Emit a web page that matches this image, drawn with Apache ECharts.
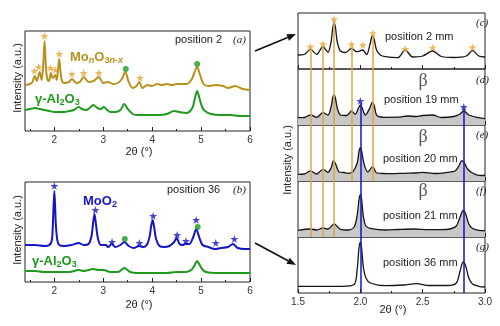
<!DOCTYPE html>
<html><head><meta charset="utf-8">
<script src="https://cdn.jsdelivr.net/npm/echarts@6/dist/echarts.min.js"></script>
<style>html,body{margin:0;padding:0;background:#fff}#c{width:500px;height:326px}</style>
</head><body><div id="c"></div>
<script>
// ---------- data (x = 2θ in degrees, y = intensity in arbitrary units) ----------
const goldA = [[1.40,46],[1.50,47],[1.55,49],[1.60,55],[1.64,50],[1.70,59],[1.74,51],[1.77,64],[1.80,90],[1.83,62],[1.86,51],[1.89,50],[1.93,58],[1.97,53],[2.02,56],[2.05,51],[2.08,64],[2.10,72],[2.12,62],[2.15,51],[2.20,48],[2.30,49],[2.36,52],[2.45,48],[2.52,49],[2.60,54],[2.70,49],[2.80,50],[2.91,54],[3.00,48],[3.10,49],[3.20,47],[3.30,48],[3.38,52],[3.45,59],[3.52,49],[3.60,43],[3.68,45],[3.74,49],[3.80,43],[3.90,46],[4.00,45],[4.10,47],[4.20,46],[4.30,47],[4.40,46],[4.50,47],[4.60,47],[4.70,47],[4.80,51],[4.86,58],[4.92,64],[4.98,56],[5.05,47],[5.15,45],[5.30,46],[5.45,45],[5.55,43],[5.70,45],[5.85,42],[6.00,41]];
const greenA = [[1.40,21],[1.50,22],[1.60,23],[1.70,22],[1.80,21],[1.90,20],[2.00,19],[2.10,19],[2.20,19],[2.30,20],[2.40,21],[2.50,24],[2.56,22],[2.65,21],[2.72,23],[2.80,26],[2.88,23],[2.95,22],[3.01,24],[3.08,21],[3.15,19],[3.25,19],[3.35,21],[3.43,27],[3.50,22],[3.60,17],[3.70,16],[3.85,16],[4.00,16],[4.15,16],[4.30,17],[4.45,20],[4.55,19],[4.70,18],[4.82,23],[4.88,34],[4.92,40],[4.96,34],[5.02,24],[5.08,20],[5.20,17],[5.40,16],[5.60,16],[5.80,15],[6.00,15]];
const starsA = [[1.59,60],[1.68,64],[1.80,95],[1.92,63],[2.02,61],[2.10,77],[2.36,57],[2.60,58],[2.91,58],[3.75,53]];
const dotsA = [[3.46,62],[4.92,67]];

const blueB = [[1.40,37],[1.60,37],[1.80,36],[1.90,37],[1.95,42],[1.97,58],[2.00,91],[2.03,58],[2.06,42],[2.10,37],[2.20,36],[2.35,37],[2.50,39],[2.60,37],[2.70,38],[2.76,46],[2.79,58],[2.82,68],[2.85,58],[2.89,44],[2.95,37],[3.05,37],[3.10,35],[3.17,38],[3.25,35],[3.35,37],[3.43,40],[3.52,36],[3.62,34],[3.73,36],[3.82,35],[3.90,38],[3.95,46],[3.98,56],[4.01,62],[4.04,55],[4.08,43],[4.15,36],[4.25,35],[4.35,36],[4.45,40],[4.50,44],[4.56,38],[4.62,37],[4.68,38],[4.76,38],[4.84,45],[4.90,53],[4.96,45],[5.03,37],[5.15,35],[5.28,33],[5.40,34],[5.55,35],[5.65,38],[5.75,34],[5.90,33],[6.00,33]];
const greenB = [[1.40,11],[1.60,11],[1.80,10],[2.00,10],[2.30,10],[2.50,12],[2.60,11],[2.80,13],[2.90,12],[3.00,12],[3.15,10],[3.30,10],[3.43,14],[3.55,10],[3.70,9],[4.00,9],[4.30,9],[4.50,10],[4.70,10],[4.82,13],[4.88,18],[4.92,21],[4.96,18],[5.02,13],[5.10,10],[5.30,9],[5.60,9],[6.00,9]];
const starsB = [[2.00,96],[2.84,72],[3.18,40],[3.74,39],[4.02,66],[4.51,47],[4.69,41],[4.90,62],[5.30,39],[5.68,43]];
const dotsB = [[3.44,43],[4.93,55]];

const curveC = [[1.50,14],[1.55,14.5],[1.60,19.7],[1.65,14.7],[1.70,22.3],[1.74,16.7],[1.765,27],[1.78,42],[1.79,45.7],[1.80,42],[1.815,27],[1.84,18],[1.88,16.5],[1.93,20.7],[1.97,17.3],[2.02,19],[2.05,14.3],[2.08,26],[2.095,33],[2.11,30],[2.13,19],[2.16,14],[2.20,12.3],[2.30,11.3],[2.36,19],[2.42,12],[2.50,13],[2.58,18],[2.65,12.5],[2.75,11.5],[2.85,13],[2.90,18.3],[2.95,13],[3.00,12]];
const curveD = [[1.50,7.3],[1.55,7.5],[1.60,10],[1.65,7.7],[1.70,12.3],[1.74,10],[1.765,18],[1.78,28],[1.79,30],[1.80,27],[1.815,17],[1.84,10],[1.89,9.5],[1.93,14],[1.96,10.7],[1.985,17],[2.00,20],[2.015,17],[2.04,10],[2.08,18],[2.095,22.7],[2.11,20],[2.13,10],[2.16,8],[2.20,7.7],[2.30,7.8],[2.38,9],[2.45,8.5],[2.50,9.5],[2.58,10],[2.65,7.5],[2.75,8.5],[2.80,11],[2.83,14],[2.87,10],[2.95,7.3],[3.00,6.3]];
const curveE = [[1.50,6.7],[1.55,7],[1.60,10],[1.65,7],[1.70,11.7],[1.74,8.7],[1.765,13],[1.785,20.3],[1.805,16],[1.83,9],[1.87,8.5],[1.90,7.7],[1.94,9.3],[1.975,18],[1.99,30],[2.00,33.3],[2.01,30],[2.03,17],[2.06,9],[2.10,14.3],[2.13,8],[2.18,7.5],[2.25,7.3],[2.35,7.7],[2.45,8],[2.50,8.7],[2.60,7.5],[2.70,8.7],[2.76,10],[2.79,15],[2.815,20.3],[2.835,18],[2.86,12],[2.90,8],[2.95,5.7],[3.00,5.5]];
const curveF = [[1.50,6.7],[1.60,8],[1.65,7],[1.70,9],[1.74,8],[1.79,13],[1.84,7.7],[1.90,7],[1.95,10],[1.975,22],[1.99,38],[2.00,42.3],[2.01,38],[2.025,20],[2.045,11],[2.08,8.7],[2.20,7],[2.30,7.5],[2.43,8],[2.55,7.3],[2.65,7.3],[2.72,8],[2.77,11],[2.80,20],[2.825,26.7],[2.845,23],[2.87,13],[2.90,8.5],[2.95,6.7],[3.00,6.3]];
const curveG = [[1.50,6.7],[1.70,6.7],[1.85,6.7],[1.95,8.5],[1.975,24],[1.99,46],[2.00,50.7],[2.01,45],[2.025,25],[2.045,15],[2.08,10],[2.20,7.3],[2.35,8],[2.45,9.3],[2.55,7.5],[2.70,7.5],[2.77,10],[2.80,22],[2.825,31],[2.845,27],[2.87,15],[2.90,9],[2.95,6.7],[3.00,6]];
const starsC = [[1.60,22.3],[1.70,25],[1.79,49.7],[1.93,24.7],[2.02,24],[2.10,35.7],[2.36,20],[2.58,21.3],[2.90,21.7]];
const starsD = [[2.00,24],[2.83,18]];
const orangeX = [1.60,1.70,1.79,1.93,2.10];
const orangeTop = [22.3,25,49.7,24.7,35.7];
const orangeXF = [1.60,1.70,1.79];
const blueX = [2.00,2.83];
const blueTopD = [24,18];

const leftTicks = [2,3,4,5,6], leftMinor = [1.5,2.5,3.5,4.5,5.5];
const rightTicks = [1.5,2.0,2.5,3.0], rightMinor = [1.75,2.25,2.75];
const rightLabels = ['1.5','2.0','2.5','3.0'];

// ---------- styles ----------
const FONT = '"Liberation Sans", Arial, sans-serif';
const GOLD = '#b8921e', ORANGE = '#e6a53a', ORLINE = '#dea543', GREEN = '#1e9a1e', BLUE = '#1515c4', BLACK = '#151515', GRAY = '#c8c8c8';
const starPath = 'path://M50,0L61.8,35.3L98.8,35.3L68.9,57.1L80.3,92.7L50,70.7L19.7,92.7L31.1,57.1L1.2,35.3L38.2,35.3Z';

const grids = [
  {left:25, top:31, width:225, height:100},
  {left:25, top:182, width:225, height:100},
  {left:298, top:13, width:187, height:56},
  {left:298, top:69, width:187, height:56},
  {left:298, top:125, width:187, height:56},
  {left:298, top:181, width:187, height:56},
  {left:298, top:237, width:187, height:56}
].map(g => Object.assign({show:true, borderColor:'#222', borderWidth:1, backgroundColor:'transparent'}, g));

const xAxes = [], yAxes = [];
grids.forEach((g, i) => {
  const left = i < 2;
  const mn = left ? 1.4 : 1.5, mx = left ? 6 : 3;
  const showLab = left || i === 6;
  xAxes.push({type:'value', gridIndex:i, min:mn, max:mx, position:'bottom',
    axisLine:{show:false}, splitLine:{show:false},
    axisTick:{show:true, inside:true, length:4, customValues: left ? leftTicks : rightTicks, lineStyle:{color:'#222'}},
    axisLabel:{show:showLab, customValues: left ? leftTicks : rightTicks, margin:4, fontSize:10, color:'#333', fontFamily:FONT,
      formatter: v => left ? String(v) : rightLabels[rightTicks.indexOf(v)] || v.toFixed(1)}});
  xAxes.push({type:'value', gridIndex:i, min:mn, max:mx, position:'bottom',
    axisLine:{show:false}, splitLine:{show:false}, axisLabel:{show:false},
    axisTick:{show:true, inside:true, length:2, customValues: left ? leftMinor : rightMinor, lineStyle:{color:'#222'}}});
  yAxes.push({type:'value', gridIndex:i, min:0, max: left ? 100 : 56, show:false});
});

function line(i, data, color, width, area) {
  const s = {type:'line', xAxisIndex:2*i, yAxisIndex:i, data, showSymbol:false, smooth:0.3,
    lineStyle:{color, width}, silent:true, z:3};
  if (area) s.areaStyle = {color:GRAY, opacity:1, origin:'start'};
  return s;
}
function scatter(i, data, color, symbol, size) {
  return {type:'scatter', xAxisIndex:2*i, yAxisIndex:i, data, symbol, symbolSize:size,
    itemStyle:{color}, silent:true, z:6};
}
function vlines(i, items) {
  return {type:'line', xAxisIndex:2*i, yAxisIndex:i, data:[], silent:true, z:4,
    markLine:{silent:true, symbol:['none','none'], label:{show:false}, animation:false, data:items}};
}
const fullLine = (x, color) => ({xAxis:x, lineStyle:{color, width:1.5, type:'solid'}});
const partLine = (x, top, color) => [{coord:[x, top], lineStyle:{color, width:1.5, type:'solid'}}, {coord:[x, 0]}];

const series = [
  line(0, goldA, GOLD, 2), line(0, greenA, GREEN, 2),
  scatter(0, starsA, ORANGE, starPath, 8), scatter(0, dotsA, GREEN, 'circle', 6),
  line(1, blueB, BLUE, 2), line(1, greenB, GREEN, 2),
  scatter(1, starsB, BLUE, starPath, 8), scatter(1, dotsB, GREEN, 'circle', 6),
  line(2, curveC, BLACK, 1.3), line(3, curveD, BLACK, 1.3, true), line(4, curveE, BLACK, 1.3, true),
  line(5, curveF, BLACK, 1.3, true), line(6, curveG, BLACK, 1.3),
  vlines(2, orangeX.map((x, k) => partLine(x, orangeTop[k] - 2, ORLINE))),
  vlines(3, orangeX.map(x => fullLine(x, ORLINE)).concat(blueX.map((x, k) => partLine(x, blueTopD[k] - 2, BLUE)))),
  vlines(4, orangeX.map(x => fullLine(x, ORLINE)).concat(blueX.map(x => fullLine(x, BLUE)))),
  vlines(5, orangeXF.map(x => fullLine(x, ORLINE)).concat(blueX.map(x => fullLine(x, BLUE)))),
  vlines(6, blueX.map(x => fullLine(x, BLUE))),
  scatter(2, starsC, ORANGE, starPath, 8), scatter(3, starsD, BLUE, starPath, 8)
];

// ---------- text & decorations ----------
function txt(x, y, text, font, fill, align, extra) {
  return Object.assign({type:'text', x, y, silent:true, z:10,
    style:{text, font, fill, textAlign:align || 'left', align:align || 'left', textVerticalAlign:'middle', verticalAlign:'middle'}}, extra || {});
}
function rich(x, y, text, r) {
  return {type:'text', x, y, silent:true, z:10,
    style:{text, rich:r, textAlign:'left', align:'left', textVerticalAlign:'middle', verticalAlign:'middle'}};
}
const mk = (color, size, italic, sub) => ({fill:color, color, fontSize:size, fontWeight:'bold', fontFamily:FONT,
  fontStyle: italic ? 'italic' : 'normal', lineHeight: sub ? 10 : 16, verticalAlign: sub ? 'bottom' : 'middle'});
const rGold = {a:mk(GOLD,13), si:mk(GOLD,9,true,true), s:mk(GOLD,9,false,true)};
const rGreen = {a:mk(GREEN,13), s:mk(GREEN,9,false,true)};
const rBlue = {a:mk(BLUE,13), s:mk(BLUE,9,false,true)};
const F11 = '11px ' + FONT, FI = 'italic 11px "Liberation Serif", "DejaVu Serif", serif', FB = '18px "Liberation Serif", "DejaVu Serif", serif';

function arrow(x1, y1, x2, y2) {
  const dx = x2 - x1, dy = y2 - y1, L = Math.hypot(dx, dy), ux = dx / L, uy = dy / L;
  const bx = x2 - 9 * ux, by = y2 - 9 * uy, px = -uy, py = ux;
  return [
    {type:'line', silent:true, shape:{x1, y1, x2:bx, y2:by}, style:{stroke:'#111', lineWidth:1.6}},
    {type:'polygon', silent:true, shape:{points:[[x2, y2], [bx + 3.5 * px, by + 3.5 * py], [bx - 3.5 * px, by - 3.5 * py]]}, style:{fill:'#111'}}
  ];
}

const graphic = [
  rich(70, 57, '{a|Mo}{si|n}{a|O}{s|3}{si|n-x}', rGold),
  rich(35, 99, '{a|γ-Al}{s|2}{a|O}{s|3}', rGreen),
  rich(83, 201, '{a|MoO}{s|2}', rBlue),
  rich(32, 261, '{a|γ-Al}{s|2}{a|O}{s|3}', rGreen),
  txt(175, 40, 'position 2', F11, '#222'), txt(233, 40, '(a)', FI, '#222'),
  txt(167, 190, 'position 36', F11, '#222'), txt(233, 190, '(b)', FI, '#222'),
  txt(18, 78, 'Intensity (a.u.)', F11, '#222', 'center', {rotation:Math.PI / 2}),
  txt(18, 230, 'Intensity (a.u.)', F11, '#222', 'center', {rotation:Math.PI / 2}),
  txt(288, 160, 'Intensity (a.u.)', F11, '#222', 'center', {rotation:Math.PI / 2}),
  txt(139, 152, '2θ (°)', F11, '#222', 'center'),
  txt(139, 305, '2θ (°)', F11, '#222', 'center'),
  txt(393, 310, '2θ (°)', F11, '#222', 'center'),
  txt(385, 37, 'position 2 mm', F11, '#222'), txt(476, 23, '(c)', FI, '#222'),
  txt(423, 81, 'β', FB, '#555', 'center'), txt(476, 80, '(d)', FI, '#222'), txt(384, 100, 'position 19 mm', F11, '#222'),
  txt(423, 137, 'β', FB, '#555', 'center'), txt(476, 135, '(e)', FI, '#222'), txt(383, 159, 'position 20 mm', F11, '#222'),
  txt(423, 191, 'β', FB, '#555', 'center'), txt(476, 191, '(f)', FI, '#222'), txt(383, 216, 'position 21 mm', F11, '#222'),
  txt(476, 247, '(g)', FI, '#222'), txt(383, 263, 'position 36 mm', F11, '#222')
].concat(arrow(255, 51, 296, 34), arrow(255, 243, 296, 265));

const chart = echarts.init(document.getElementById('c'), null, {renderer:'canvas'});
chart.setOption({animation:false, backgroundColor:'#fff', grid:grids, xAxis:xAxes, yAxis:yAxes, series, graphic});
</script></body></html>
